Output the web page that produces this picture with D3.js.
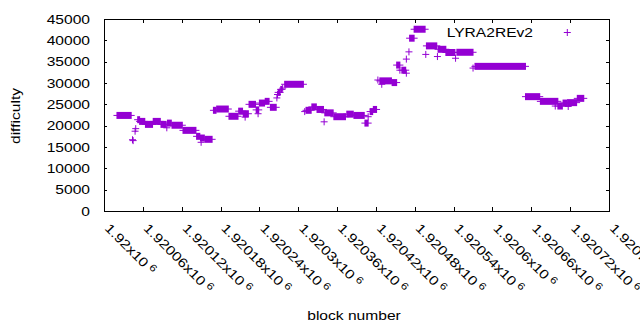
<!DOCTYPE html>
<html>
<head>
<meta charset="utf-8">
<script src="https://cdn.jsdelivr.net/npm/d3@7"></script>
<style>
    body { margin: 0; background: #fff; }
    svg { display: block; }
    text { font-family: "Liberation Sans", Arial, sans-serif; font-size: 13px; fill: #000; }
</style>
</head>
<body>
<svg id="chart" width="640" height="330"></svg>
<script>
// Runs of blocks with the same difficulty (a single block when start == end)
const runStart = [1920020, 1920044, 1920045, 1920048, 1920049, 1920052, 1920055, 1920064, 1920076, 1920088,
    1920097, 1920098, 1920105, 1920122, 1920143, 1920149, 1920150, 1920156, 1920169, 1920174,
    1920193, 1920208, 1920215, 1920218, 1920224, 1920235, 1920238, 1920240, 1920249, 1920257,
    1920267, 1920268, 1920269, 1920273, 1920276, 1920279, 1920310, 1920312, 1920321, 1920329,
    1920340, 1920341, 1920355, 1920375, 1920386, 1920403, 1920408, 1920411, 1920416, 1920423,
    1920426, 1920429, 1920445, 1920452, 1920457, 1920460, 1920467, 1920467, 1920471, 1920472,
    1920479, 1920497, 1920498, 1920515, 1920516, 1920528, 1920543, 1920545, 1920570, 1920573,
    1920651, 1920674, 1920697, 1920701, 1920709, 1920716, 1920717, 1920731];
const runEnd = [1920042, 1920044, 1920045, 1920048, 1920049, 1920055, 1920063, 1920075, 1920087, 1920096,
    1920097, 1920104, 1920121, 1920142, 1920148, 1920155, 1920150, 1920167, 1920173, 1920192,
    1920207, 1920214, 1920223, 1920218, 1920234, 1920239, 1920238, 1920248, 1920255, 1920266,
    1920267, 1920268, 1920272, 1920275, 1920276, 1920308, 1920310, 1920320, 1920328, 1920339,
    1920340, 1920354, 1920373, 1920385, 1920402, 1920408, 1920408, 1920415, 1920421, 1920423,
    1920444, 1920429, 1920452, 1920457, 1920457, 1920466, 1920467, 1920467, 1920471, 1920479,
    1920496, 1920497, 1920514, 1920515, 1920528, 1920542, 1920543, 1920570, 1920570, 1920651,
    1920673, 1920701, 1920697, 1920708, 1920715, 1920730, 1920717, 1920741];
const runDiff = [22400, 16700, 16500, 18700, 19300, 21400, 21000, 20300, 21000, 20300,
    19500, 20600, 20100, 18900, 17500, 17100, 16100, 16800, 23600, 23900,
    22200, 23400, 22800, 22000, 25000, 23700, 22800, 25300, 25700, 24300,
    26500, 27300, 27800, 28500, 28800, 29700, 23300, 23600, 24400, 23800,
    20900, 23000, 22100, 22700, 22400, 20600, 22100, 23300, 23800, 30700,
    30500, 29700, 30100, 34200, 33000, 33000, 32300, 35600, 37300, 40500,
    42600, 36700, 38700, 36200, 37900, 37150, 35800, 37200, 33500, 33900,
    26800, 25700, 24600, 24600, 25300, 25400, 24500, 26400];

const xTicks = [1920000, 1920060, 1920120, 1920180, 1920240, 1920300, 1920360,
    1920420, 1920480, 1920540, 1920600, 1920660, 1920720, 1920780];
const yTicks = [0, 5000, 10000, 15000, 20000, 25000, 30000, 35000, 40000, 45000];

const seriesName = 'LYRA2REv2';
const color = '#9400d3';

const plot = { left: 104, right: 609, top: 19, bottom: 211 };

const svg = d3.select('#chart');

const x = d3.scaleLinear().domain([1920000, 1920780]).range([plot.left, plot.right]);
const y = d3.scaleLinear().domain([0, 45000]).range([plot.bottom, plot.top]);

// texte un peu élargi comme le rendu d'origine
function label(parent, px, py, str, anchor, angle) {
    const g = parent.append('g').attr('transform', `translate(${px},${py}) rotate(${angle || 0})`);
    return g.append('text')
        .attr('text-anchor', anchor)
        .attr('transform', 'scale(1.2,1)')
        .text(str);
}

const runs = runStart.map((s, i) => ({ s, e: runEnd[i], d: runDiff[i] }));

// --- points "+" (barres verticales serrées + bras horizontal) ---
const marks = svg.append('g').attr('fill', color).attr('stroke', color);

marks.selectAll('rect')
    .data(runs)
    .join('rect')
    .attr('stroke', 'none')
    .attr('x', d => x(d.s) - 0.5)
    .attr('width', d => x(d.e) - x(d.s) + 1)
    .attr('y', d => y(d.d) - 3.5)
    .attr('height', 7);

marks.selectAll('line')
    .data(runs)
    .join('line')
    .attr('stroke-width', 1)
    .attr('x1', d => x(d.s) - 3.5)
    .attr('x2', d => x(d.e) + 3.5)
    .attr('y1', d => y(d.d))
    .attr('y2', d => y(d.d));

// --- axes ---
const axes = svg.append('g')
    .attr('stroke', '#000')
    .attr('shape-rendering', 'crispEdges');

axes.selectAll('line.ytick')
    .data(yTicks)
    .join('line')
    .attr('class', 'ytick')
    .attr('x1', plot.left).attr('x2', plot.left + 3)
    .attr('y1', d => Math.round(y(d)) + 0.5).attr('y2', d => Math.round(y(d)) + 0.5);
axes.selectAll('line.ytick2')
    .data(yTicks)
    .join('line')
    .attr('class', 'ytick2')
    .attr('x1', plot.right - 3).attr('x2', plot.right)
    .attr('y1', d => Math.round(y(d)) + 0.5).attr('y2', d => Math.round(y(d)) + 0.5);

axes.selectAll('line.xtick')
    .data(xTicks)
    .join('line')
    .attr('class', 'xtick')
    .attr('x1', d => Math.round(x(d)) + 0.5).attr('x2', d => Math.round(x(d)) + 0.5)
    .attr('y1', plot.bottom).attr('y2', plot.bottom - 4);
axes.selectAll('line.xtick2')
    .data(xTicks)
    .join('line')
    .attr('class', 'xtick2')
    .attr('x1', d => Math.round(x(d)) + 0.5).attr('x2', d => Math.round(x(d)) + 0.5)
    .attr('y1', plot.top).attr('y2', plot.top + 4);

axes.append('rect')
    .attr('x', plot.left + 0.5).attr('y', plot.top + 0.5)
    .attr('width', plot.right - plot.left).attr('height', plot.bottom - plot.top)
    .attr('fill', 'none');

// labels des graduations
yTicks.forEach(v => label(svg, 90, y(v) + 4.6, String(v), 'end'));

xTicks.forEach(v => {
    const t = label(svg, x(v), 229, '', 'start', 45);
    t.append('tspan').text(`${+(v / 1e6).toFixed(5)}x10`);
    t.append('tspan').attr('dx', 3).attr('dy', -4).style('font-size', '10px').text('6');
});

label(svg, 20, 116, 'difficulty', 'middle', -90);
label(svg, 354, 320, 'block number', 'middle');

// --- légende ---
label(svg, 533, 37.3, seriesName, 'end');
const key = svg.append('g').attr('stroke', color).attr('stroke-width', 1);
key.append('line').attr('x1', 563.8).attr('x2', 570.8).attr('y1', 32.5).attr('y2', 32.5);
key.append('line').attr('x1', 567.3).attr('x2', 567.3).attr('y1', 29).attr('y2', 36);
</script>
</body>
</html>
